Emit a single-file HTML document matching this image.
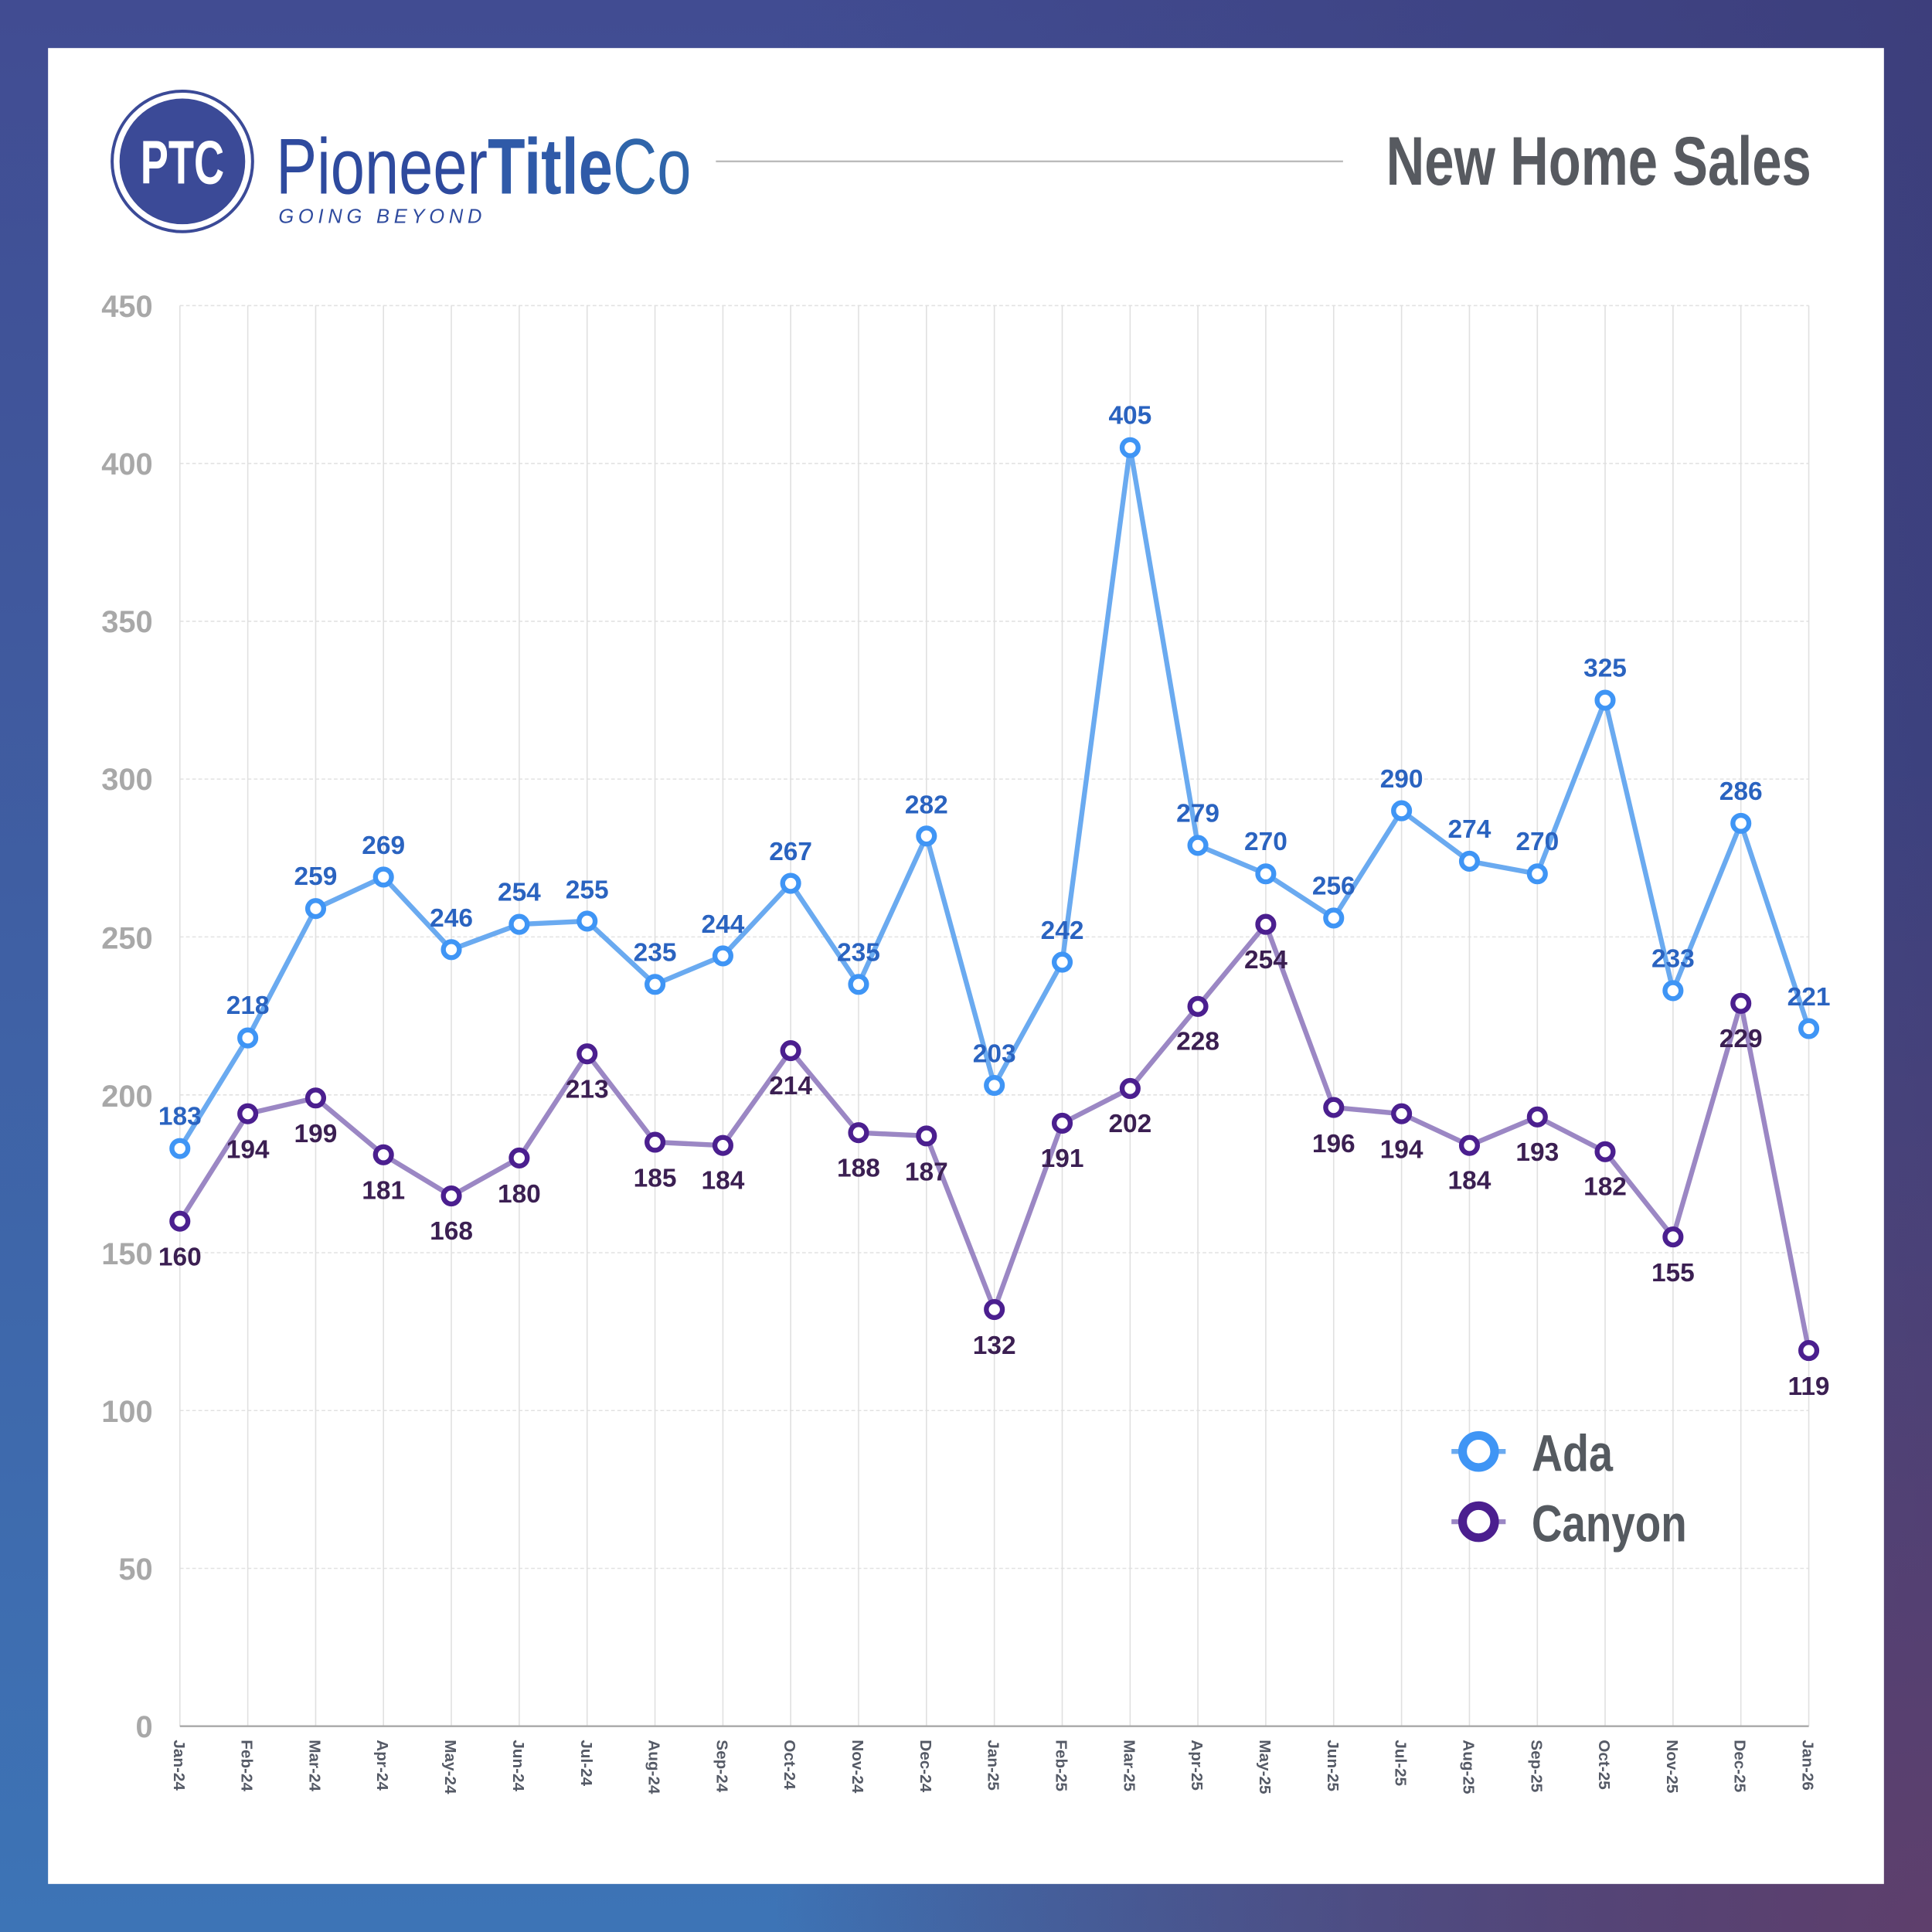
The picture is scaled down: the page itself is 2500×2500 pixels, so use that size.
<!DOCTYPE html>
<html><head><meta charset="utf-8"><style>
html,body{margin:0;padding:0;width:2500px;height:2500px;overflow:hidden}
svg{display:block}
text{font-family:"Liberation Sans",sans-serif;font-weight:bold}
.a{fill:#2a63c0;font-size:21px;text-anchor:middle}
.c{fill:#3b1f52;font-size:21px;text-anchor:middle}
.yt{fill:#a8a8a8;font-size:25px;text-anchor:end}
.xt{fill:#555a66;font-size:13px}
</style></head><body>
<svg width="2500" height="2500" viewBox="0 0 1568 1568" xmlns="http://www.w3.org/2000/svg">
<defs>
<linearGradient id="g1" x1="0" y1="0" x2="0" y2="1"><stop offset="0" stop-color="#414c92"/><stop offset="1" stop-color="#3d74b6"/></linearGradient>
<linearGradient id="g2" x1="0" y1="0" x2="1" y2="0"><stop offset="0.4" stop-color="#3c3c78" stop-opacity="0"/><stop offset="1" stop-color="#3c3c78" stop-opacity="0.85"/></linearGradient>
<radialGradient id="g3" cx="1" cy="1" r="0.6"><stop offset="0" stop-color="#5e3f6c"/><stop offset="1" stop-color="#5e3f6c" stop-opacity="0"/></radialGradient>
</defs>
<rect width="1568" height="1568" fill="url(#g1)"/>
<rect width="1568" height="1568" fill="url(#g2)"/>
<rect width="1568" height="1568" fill="url(#g3)"/>
<rect x="39" y="39" width="1490" height="1490" fill="#fff"/>
<!-- logo -->
<circle cx="148" cy="131" r="57" fill="none" stroke="#3b4a97" stroke-width="2.5"/>
<circle cx="148" cy="131" r="51" fill="#3b4a97"/>
<text x="148" y="149" fill="#fff" font-size="50" text-anchor="middle" textLength="68" lengthAdjust="spacingAndGlyphs">PTC</text>
<text x="224" y="157" font-size="64" textLength="337" lengthAdjust="spacingAndGlyphs" style="font-weight:normal"><tspan fill="#2e4a9e">Pioneer</tspan><tspan fill="#2f5aa8" font-weight="bold">Title</tspan><tspan fill="#2f65aa">Co</tspan></text>
<text x="226" y="181" fill="#2e4a9e" font-size="16" font-style="italic" textLength="165" lengthAdjust="spacing" style="font-weight:normal">GOING BEYOND</text>
<line x1="581" y1="131" x2="1090" y2="131" stroke="#bbb" stroke-width="1.5"/>
<text x="1125" y="150" fill="#575a60" font-size="56" textLength="345" lengthAdjust="spacingAndGlyphs">New Home Sales</text>
<!-- grid -->
<g stroke="#e2e2e2" stroke-width="1" stroke-dasharray="3,2">
<line x1="146" y1="248" x2="1468" y2="248"/><line x1="146" y1="376.1" x2="1468" y2="376.1"/><line x1="146" y1="504.2" x2="1468" y2="504.2"/><line x1="146" y1="632.3" x2="1468" y2="632.3"/><line x1="146" y1="760.4" x2="1468" y2="760.4"/><line x1="146" y1="888.6" x2="1468" y2="888.6"/><line x1="146" y1="1016.7" x2="1468" y2="1016.7"/><line x1="146" y1="1144.8" x2="1468" y2="1144.8"/><line x1="146" y1="1272.9" x2="1468" y2="1272.9"/>
</g>
<g stroke="#e0e0e0" stroke-width="1">
<line x1="146" y1="248" x2="146" y2="1401"/><line x1="201.1" y1="248" x2="201.1" y2="1401"/><line x1="256.2" y1="248" x2="256.2" y2="1401"/><line x1="311.2" y1="248" x2="311.2" y2="1401"/><line x1="366.3" y1="248" x2="366.3" y2="1401"/><line x1="421.4" y1="248" x2="421.4" y2="1401"/><line x1="476.5" y1="248" x2="476.5" y2="1401"/><line x1="531.6" y1="248" x2="531.6" y2="1401"/><line x1="586.7" y1="248" x2="586.7" y2="1401"/><line x1="641.7" y1="248" x2="641.7" y2="1401"/><line x1="696.8" y1="248" x2="696.8" y2="1401"/><line x1="751.9" y1="248" x2="751.9" y2="1401"/><line x1="807" y1="248" x2="807" y2="1401"/><line x1="862.1" y1="248" x2="862.1" y2="1401"/><line x1="917.2" y1="248" x2="917.2" y2="1401"/><line x1="972.2" y1="248" x2="972.2" y2="1401"/><line x1="1027.3" y1="248" x2="1027.3" y2="1401"/><line x1="1082.4" y1="248" x2="1082.4" y2="1401"/><line x1="1137.5" y1="248" x2="1137.5" y2="1401"/><line x1="1192.6" y1="248" x2="1192.6" y2="1401"/><line x1="1247.7" y1="248" x2="1247.7" y2="1401"/><line x1="1302.7" y1="248" x2="1302.7" y2="1401"/><line x1="1357.8" y1="248" x2="1357.8" y2="1401"/><line x1="1412.9" y1="248" x2="1412.9" y2="1401"/><line x1="1468" y1="248" x2="1468" y2="1401"/>
</g>
<line x1="146" y1="1401" x2="1468" y2="1401" stroke="#a8a8a8" stroke-width="1.5"/>
<!-- y ticks -->
<text class="yt" x="124" y="1410">0</text><text class="yt" x="124" y="1282">50</text><text class="yt" x="124" y="1154">100</text><text class="yt" x="124" y="1026">150</text><text class="yt" x="124" y="898">200</text><text class="yt" x="124" y="770">250</text><text class="yt" x="124" y="641">300</text><text class="yt" x="124" y="513">350</text><text class="yt" x="124" y="385">400</text><text class="yt" x="124" y="257">450</text>
<!-- x ticks -->
<g class="xt">
<text transform="translate(141,1412) rotate(90)" class="xt">Jan-24</text><text transform="translate(196.1,1412) rotate(90)" class="xt">Feb-24</text><text transform="translate(251.2,1412) rotate(90)" class="xt">Mar-24</text><text transform="translate(306.2,1412) rotate(90)" class="xt">Apr-24</text><text transform="translate(361.3,1412) rotate(90)" class="xt">May-24</text><text transform="translate(416.4,1412) rotate(90)" class="xt">Jun-24</text><text transform="translate(471.5,1412) rotate(90)" class="xt">Jul-24</text><text transform="translate(526.6,1412) rotate(90)" class="xt">Aug-24</text><text transform="translate(581.7,1412) rotate(90)" class="xt">Sep-24</text><text transform="translate(636.7,1412) rotate(90)" class="xt">Oct-24</text><text transform="translate(691.8,1412) rotate(90)" class="xt">Nov-24</text><text transform="translate(746.9,1412) rotate(90)" class="xt">Dec-24</text><text transform="translate(802,1412) rotate(90)" class="xt">Jan-25</text><text transform="translate(857.1,1412) rotate(90)" class="xt">Feb-25</text><text transform="translate(912.2,1412) rotate(90)" class="xt">Mar-25</text><text transform="translate(967.2,1412) rotate(90)" class="xt">Apr-25</text><text transform="translate(1022.3,1412) rotate(90)" class="xt">May-25</text><text transform="translate(1077.4,1412) rotate(90)" class="xt">Jun-25</text><text transform="translate(1132.5,1412) rotate(90)" class="xt">Jul-25</text><text transform="translate(1187.6,1412) rotate(90)" class="xt">Aug-25</text><text transform="translate(1242.7,1412) rotate(90)" class="xt">Sep-25</text><text transform="translate(1297.7,1412) rotate(90)" class="xt">Oct-25</text><text transform="translate(1352.8,1412) rotate(90)" class="xt">Nov-25</text><text transform="translate(1407.9,1412) rotate(90)" class="xt">Dec-25</text><text transform="translate(1463,1412) rotate(90)" class="xt">Jan-26</text>
</g>
<!-- Canyon line -->
<polyline fill="none" stroke="#9b87c4" stroke-width="4" stroke-linejoin="round" points="146,991.1 201.1,903.9 256.2,891.1 311.2,937.2 366.3,970.6 421.4,939.8 476.5,855.3 531.6,927 586.7,929.6 641.7,852.7 696.8,919.3 751.9,921.9 807,1062.8 862.1,911.6 917.2,883.4 972.2,816.8 1027.3,750.2 1082.4,898.8 1137.5,903.9 1192.6,929.6 1247.7,906.5 1302.7,934.7 1357.8,1003.9 1412.9,814.3 1468,1096.1"/>
<!-- Ada line -->
<polyline fill="none" stroke="#6aaaf0" stroke-width="4" stroke-linejoin="round" points="146,932.1 201.1,842.4 256.2,737.4 311.2,711.8 366.3,770.7 421.4,750.2 476.5,747.6 531.6,798.9 586.7,775.8 641.7,716.9 696.8,798.9 751.9,678.5 807,880.9 862.1,780.9 917.2,363.3 972.2,686.1 1027.3,709.2 1082.4,745.1 1137.5,658 1192.6,699 1247.7,709.2 1302.7,568.3 1357.8,804 1412.9,668.2 1468,834.8"/>
<g fill="#fff" stroke="#4b1f8f" stroke-width="4">
<circle cx="146" cy="991.1" r="6.5"/><circle cx="201.1" cy="903.9" r="6.5"/><circle cx="256.2" cy="891.1" r="6.5"/><circle cx="311.2" cy="937.2" r="6.5"/><circle cx="366.3" cy="970.6" r="6.5"/><circle cx="421.4" cy="939.8" r="6.5"/><circle cx="476.5" cy="855.3" r="6.5"/><circle cx="531.6" cy="927" r="6.5"/><circle cx="586.7" cy="929.6" r="6.5"/><circle cx="641.7" cy="852.7" r="6.5"/><circle cx="696.8" cy="919.3" r="6.5"/><circle cx="751.9" cy="921.9" r="6.5"/><circle cx="807" cy="1062.8" r="6.5"/><circle cx="862.1" cy="911.6" r="6.5"/><circle cx="917.2" cy="883.4" r="6.5"/><circle cx="972.2" cy="816.8" r="6.5"/><circle cx="1027.3" cy="750.2" r="6.5"/><circle cx="1082.4" cy="898.8" r="6.5"/><circle cx="1137.5" cy="903.9" r="6.5"/><circle cx="1192.6" cy="929.6" r="6.5"/><circle cx="1247.7" cy="906.5" r="6.5"/><circle cx="1302.7" cy="934.7" r="6.5"/><circle cx="1357.8" cy="1003.9" r="6.5"/><circle cx="1412.9" cy="814.3" r="6.5"/><circle cx="1468" cy="1096.1" r="6.5"/>
</g>
<g fill="#fff" stroke="#3f95f5" stroke-width="4">
<circle cx="146" cy="932.1" r="6.5"/><circle cx="201.1" cy="842.4" r="6.5"/><circle cx="256.2" cy="737.4" r="6.5"/><circle cx="311.2" cy="711.8" r="6.5"/><circle cx="366.3" cy="770.7" r="6.5"/><circle cx="421.4" cy="750.2" r="6.5"/><circle cx="476.5" cy="747.6" r="6.5"/><circle cx="531.6" cy="798.9" r="6.5"/><circle cx="586.7" cy="775.8" r="6.5"/><circle cx="641.7" cy="716.9" r="6.5"/><circle cx="696.8" cy="798.9" r="6.5"/><circle cx="751.9" cy="678.5" r="6.5"/><circle cx="807" cy="880.9" r="6.5"/><circle cx="862.1" cy="780.9" r="6.5"/><circle cx="917.2" cy="363.3" r="6.5"/><circle cx="972.2" cy="686.1" r="6.5"/><circle cx="1027.3" cy="709.2" r="6.5"/><circle cx="1082.4" cy="745.1" r="6.5"/><circle cx="1137.5" cy="658" r="6.5"/><circle cx="1192.6" cy="699" r="6.5"/><circle cx="1247.7" cy="709.2" r="6.5"/><circle cx="1302.7" cy="568.3" r="6.5"/><circle cx="1357.8" cy="804" r="6.5"/><circle cx="1412.9" cy="668.2" r="6.5"/><circle cx="1468" cy="834.8" r="6.5"/>
</g>
<!-- Ada labels -->
<text class="a" x="146" y="913">183</text><text class="a" x="201.1" y="823">218</text><text class="a" x="256.2" y="718">259</text><text class="a" x="311.2" y="693">269</text><text class="a" x="366.3" y="752">246</text><text class="a" x="421.4" y="731">254</text><text class="a" x="476.5" y="729">255</text><text class="a" x="531.6" y="780">235</text><text class="a" x="586.7" y="757">244</text><text class="a" x="641.7" y="698">267</text><text class="a" x="696.8" y="780">235</text><text class="a" x="751.9" y="660">282</text><text class="a" x="807" y="862">203</text><text class="a" x="862.1" y="762">242</text><text class="a" x="917.2" y="344">405</text><text class="a" x="972.2" y="667">279</text><text class="a" x="1027.3" y="690">270</text><text class="a" x="1082.4" y="726">256</text><text class="a" x="1137.5" y="639">290</text><text class="a" x="1192.6" y="680">274</text><text class="a" x="1247.7" y="690">270</text><text class="a" x="1302.7" y="549">325</text><text class="a" x="1357.8" y="785">233</text><text class="a" x="1412.9" y="649">286</text><text class="a" x="1468" y="816">221</text>
<!-- Canyon labels -->
<text class="c" x="146" y="1027">160</text><text class="c" x="201.1" y="940">194</text><text class="c" x="256.2" y="927">199</text><text class="c" x="311.2" y="973">181</text><text class="c" x="366.3" y="1006">168</text><text class="c" x="421.4" y="976">180</text><text class="c" x="476.5" y="891">213</text><text class="c" x="531.6" y="963">185</text><text class="c" x="586.7" y="965">184</text><text class="c" x="641.7" y="888">214</text><text class="c" x="696.8" y="955">188</text><text class="c" x="751.9" y="958">187</text><text class="c" x="807" y="1099">132</text><text class="c" x="862.1" y="947">191</text><text class="c" x="917.2" y="919">202</text><text class="c" x="972.2" y="852">228</text><text class="c" x="1027.3" y="786">254</text><text class="c" x="1082.4" y="935">196</text><text class="c" x="1137.5" y="940">194</text><text class="c" x="1192.6" y="965">184</text><text class="c" x="1247.7" y="942">193</text><text class="c" x="1302.7" y="970">182</text><text class="c" x="1357.8" y="1040">155</text><text class="c" x="1412.9" y="850">229</text><text class="c" x="1468" y="1132">119</text>
<!-- legend -->
<line x1="1178" y1="1178" x2="1222" y2="1178" stroke="#6aaaf0" stroke-width="4"/>
<circle cx="1200" cy="1178" r="13" fill="#fff" stroke="#3f95f5" stroke-width="7"/>
<line x1="1178" y1="1235" x2="1222" y2="1235" stroke="#9b87c4" stroke-width="4"/>
<circle cx="1200" cy="1235" r="13" fill="#fff" stroke="#4b1f8f" stroke-width="7"/>
<text x="1243" y="1194" fill="#555a60" font-size="42" textLength="66" lengthAdjust="spacingAndGlyphs">Ada</text>
<text x="1243" y="1251" fill="#555a60" font-size="42" textLength="126" lengthAdjust="spacingAndGlyphs">Canyon</text>
</svg>
</body></html>
